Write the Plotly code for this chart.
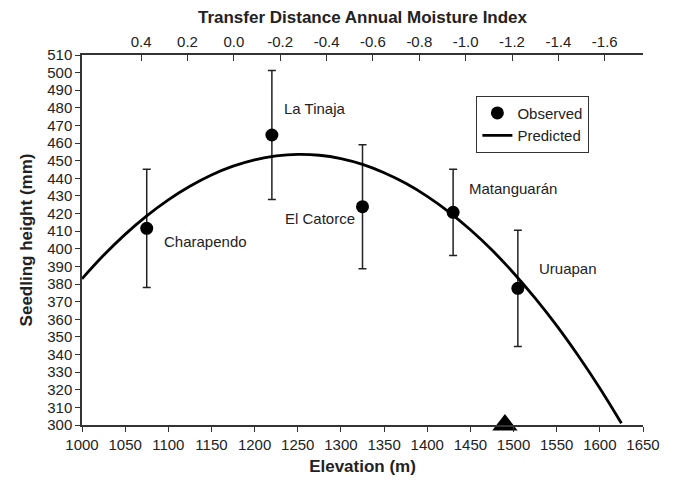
import plotly.graph_objects as go

# ---- data ----
sites = ["Charapendo", "La Tinaja", "El Catorce", "Matanguarán", "Uruapan"]
site_elev = [1075, 1220, 1325, 1430, 1505]
site_height = [411.6, 464.6, 423.9, 420.7, 377.6]
site_err = [33.5, 36.6, 35.2, 24.5, 33.0]

pred_elev = [1000, 1025, 1050, 1075, 1100, 1125, 1150, 1175, 1200, 1225, 1250,
             1275, 1300, 1325, 1350, 1375, 1400, 1425, 1450, 1475, 1500, 1525,
             1550, 1575, 1600, 1625]
pred_height = [383.0, 396.3, 408.2, 418.7, 427.8, 435.5, 441.9, 446.9, 450.5,
               452.7, 453.6, 453.1, 451.2, 447.9, 443.2, 437.2, 429.8, 421.0,
               410.8, 399.3, 386.3, 372.0, 356.4, 339.3, 320.9, 301.0]

seed_source_elev = [1490]
seed_source_height = [300]

moisture_ticks = [0.4, 0.2, 0.0, -0.2, -0.4, -0.6, -0.8, -1.0, -1.2, -1.4, -1.6]
moisture_labels = ["0.4", "0.2", "0.0", "-0.2", "-0.4", "-0.6", "-0.8", "-1.0",
                   "-1.2", "-1.4", "-1.6"]
moisture_range = [0.655, -1.765]   # moisture index at elevation 1000 and 1650

FONT = "Liberation Sans, Arial, sans-serif"
TXT = "#222222"
AX = "#333333"

fig = go.Figure()

fig.add_trace(go.Scatter(
    x=site_elev, y=site_height, mode="markers", name="Observed",
    marker=dict(color="black", size=13),
    error_y=dict(type="data", array=site_err, visible=True, color=TXT,
                 thickness=1.5, width=4),
))
fig.add_trace(go.Scatter(
    x=pred_elev, y=pred_height, mode="lines", name="Predicted",
    line=dict(color="black", width=2.8, shape="spline"),
))
fig.add_trace(go.Scatter(
    x=seed_source_elev, y=seed_source_height, mode="markers", showlegend=False,
    marker=dict(symbol="triangle-up", color="black", size=22),
    cliponaxis=False,
))
# invisible trace to activate the top moisture-index axis
fig.add_trace(go.Scatter(
    x=moisture_range, y=[400, 400], xaxis="x2", mode="markers",
    marker=dict(opacity=0), showlegend=False, hoverinfo="skip",
))

# site labels
offsets = {
    "Charapendo": (15, -13, "left"),
    "La Tinaja": (10, 26, "left"),
    "El Catorce": (-6, -12, "right"),
    "Matanguarán": (14, 24, "left"),
    "Uruapan": (19, 20, "left"),
}
for name, xe, yh in zip(sites, site_elev, site_height):
    dx, dy, anc = offsets[name]
    fig.add_annotation(x=xe, y=yh, text=name, showarrow=False, xanchor=anc,
                       yanchor="middle", xshift=dx, yshift=dy,
                       font=dict(family=FONT, size=15, color=TXT))

# the page body adds an 8 px offset, so margins are shifted to compensate
fig.update_layout(
    width=675, height=483,
    margin=dict(l=74, r=40, t=47, b=66),
    paper_bgcolor="white", plot_bgcolor="white",
    font=dict(family=FONT, size=15, color=TXT),
    showlegend=True,
    legend=dict(x=0.703, y=0.89, xanchor="left", yanchor="top",
                bordercolor=AX, borderwidth=1, bgcolor="white",
                font=dict(family=FONT, size=15, color=TXT),
                tracegroupgap=0, itemwidth=30),
    xaxis=dict(
        range=[1000, 1650], tick0=1000, dtick=50, ticks="outside", ticklen=5,
        tickwidth=1.2, tickcolor=AX, showline=True, linecolor=AX,
        linewidth=1.5, showgrid=False, zeroline=False, automargin=False,
        tickfont=dict(family=FONT, size=15, color=TXT),
        title=dict(text="<b>Elevation (m)</b>", standoff=8,
                   font=dict(family=FONT, size=17, color=TXT)),
    ),
    xaxis2=dict(
        overlaying="x", side="top", range=moisture_range,
        tickmode="array", tickvals=moisture_ticks, ticktext=moisture_labels,
        ticks="inside", ticklen=6, tickwidth=1.2, tickcolor=AX,
        showline=True, linecolor=AX, linewidth=1.5, showgrid=False,
        zeroline=False, automargin=False,
        tickfont=dict(family=FONT, size=15, color=TXT),
        title=dict(text="<b>Transfer Distance Annual Moisture Index</b>",
                   standoff=6, font=dict(family=FONT, size=17, color=TXT)),
    ),
    yaxis=dict(
        range=[300, 510], tick0=300, dtick=10, ticks="outside", ticklen=5,
        tickwidth=1.2, tickcolor=AX, showline=True, linecolor=AX,
        linewidth=1.5, showgrid=False, zeroline=False, automargin=False,
        tickfont=dict(family=FONT, size=15, color=TXT),
        title=dict(text="<b>Seedling height (mm)</b>", standoff=10,
                   font=dict(family=FONT, size=17, color=TXT)),
    ),
)

fig.write_html("out.html")
